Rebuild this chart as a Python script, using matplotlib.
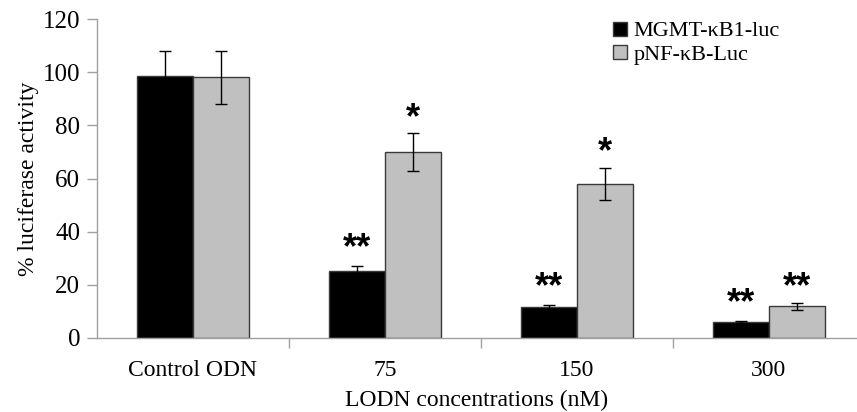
import matplotlib
matplotlib.use('Agg')
import matplotlib.pyplot as plt
import numpy as np

# values
categories = ['Control ODN', '75', '150', '300']
mgmt_vals = [98.5, 25.2, 11.5, 6.0]
mgmt_err = [9.5, 2.0, 0.8, 0.4]
pnf_vals = [98.0, 70.0, 58.0, 12.0]
pnf_err = [10.0, 7.0, 6.0, 1.3]
mgmt_sig = ['', '**', '**', '**']
pnf_sig = ['', '*', '*', '**']

serif = ['Liberation Serif', 'DejaVu Serif']
plt.rcParams['font.family'] = serif

fig = plt.figure(figsize=(8.57, 4.12), dpi=100)
ax = fig.add_axes([97/857, 1-338/412, 1-97/857, 319/412])

x = np.arange(len(categories))
w = 0.29
edge = '#3a3a3a'
ax.bar(x - w/2, mgmt_vals, w, color='black', edgecolor=edge, linewidth=1,
       label='MGMT-κB1-luc')
ax.bar(x + w/2, pnf_vals, w, color='#c0c0c0', edgecolor=edge, linewidth=1,
       label='pNF-κB-Luc')
ax.errorbar(x - w/2, mgmt_vals, yerr=mgmt_err, fmt='none', ecolor='black',
            elinewidth=1, capsize=4, capthick=1)
ax.errorbar(x + w/2, pnf_vals, yerr=pnf_err, fmt='none', ecolor='black',
            elinewidth=1, capsize=4, capthick=1)

star_font = ['Liberation Sans', 'DejaVu Sans']
for xi, v, e, s in zip(x - w/2, mgmt_vals, mgmt_err, mgmt_sig):
    if s:
        ax.annotate(s, (xi, v + e), xytext=(0, 0), textcoords='offset points',
                    ha='center', va='bottom', fontsize=26, fontweight='bold',
                    family=star_font)
for xi, v, e, s in zip(x + w/2, pnf_vals, pnf_err, pnf_sig):
    if s:
        ax.annotate(s, (xi, v + e), xytext=(0, -2), textcoords='offset points',
                    ha='center', va='bottom', fontsize=26, fontweight='bold',
                    family=star_font)

ax.set_xlim(-0.5, 3.5 - 8/192)
ax.set_ylim(0, 120)
ax.set_yticks(np.arange(0, 121, 20))
ax.set_xticks(x)
ax.set_xticklabels(categories)
ax.set_xticks(np.arange(0.5, 3.5, 1), minor=True)
ax.tick_params(axis='x', which='major', length=0, pad=16, labelsize=17)
ax.tick_params(axis='x', which='minor', length=7, color='#a0a0a0', width=1)
ax.tick_params(axis='y', length=7, color='#a0a0a0', width=1, labelsize=18, pad=5)

for sp in ['top', 'right']:
    ax.spines[sp].set_visible(False)
for sp in ['left', 'bottom']:
    ax.spines[sp].set_color('#a0a0a0')
    ax.spines[sp].set_linewidth(1)

ax.set_ylabel('% luciferase activity', fontsize=17, labelpad=3)
ax.set_xlabel('LODN concentrations (nM)', fontsize=17, labelpad=6)

ax.legend(loc='upper right', bbox_to_anchor=(0.91, 1.02), frameon=False,
          fontsize=16, handlelength=0.6, handleheight=0.6, handletextpad=0.3,
          labelspacing=0.15, borderaxespad=0)

fig.savefig('out.png', dpi=100)
